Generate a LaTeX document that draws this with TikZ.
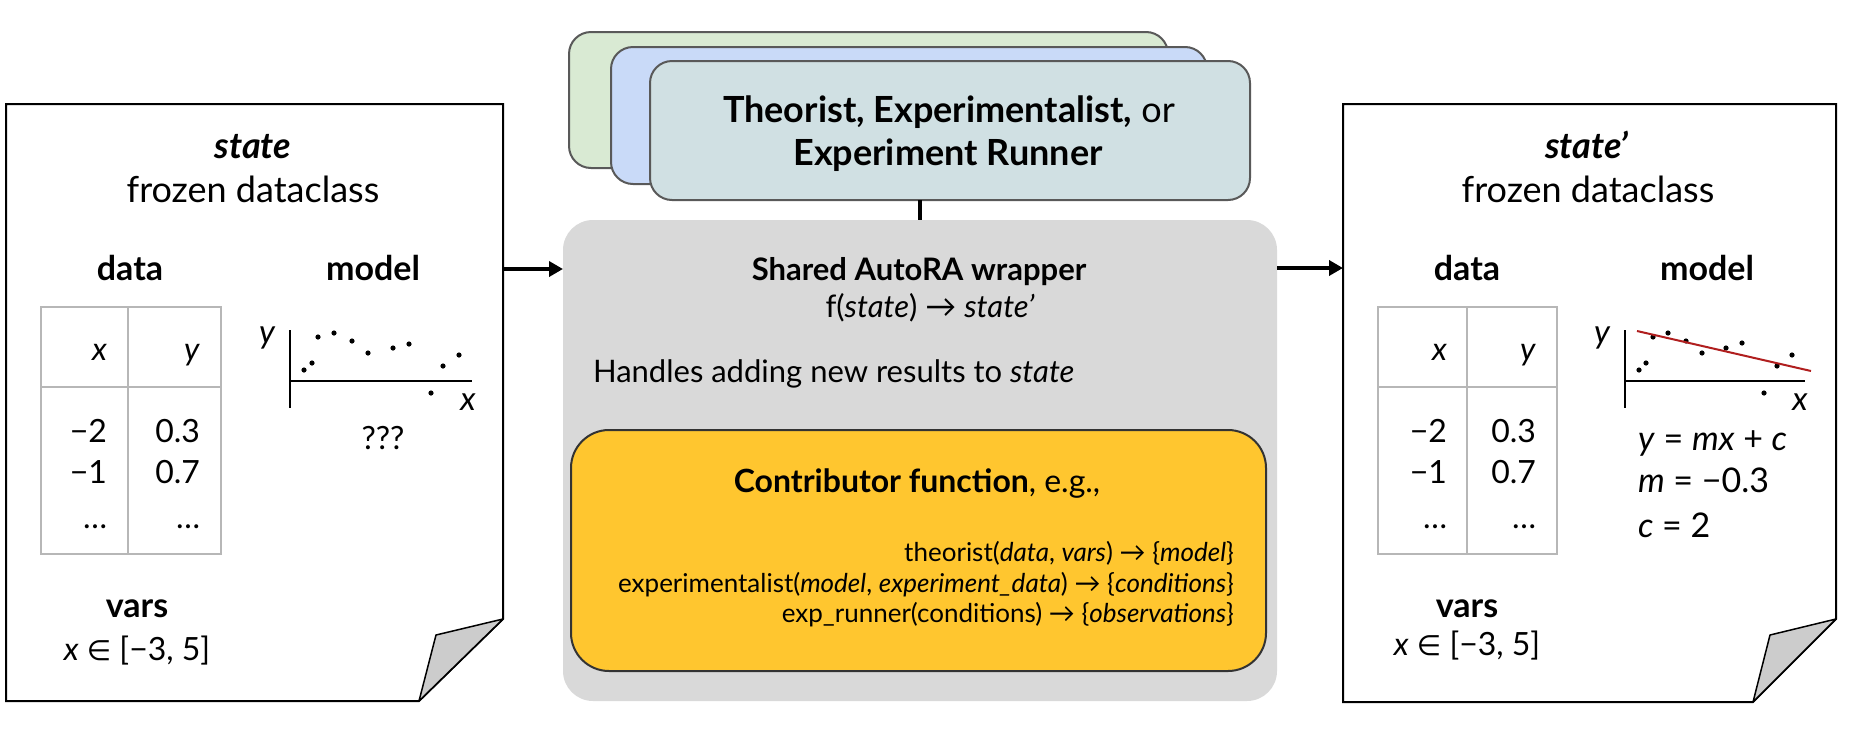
\documentclass[tikz,border=0pt]{standalone}
\usepackage{fontspec}
\setmainfont{Lato}
\newfontfamily\symbfont{DejaVu Sans}
\usetikzlibrary{arrows.meta}
\definecolor{tablegray}{HTML}{B7B7B7}
\definecolor{flapgray}{HTML}{CCCCCC}
\definecolor{boxgreen}{HTML}{D9EAD3}
\definecolor{boxblue}{HTML}{C9DAF8}
\definecolor{boxteal}{HTML}{D0E0E3}
\definecolor{boxline}{HTML}{595959}
\definecolor{wrapgray}{HTML}{D9D9D9}
\definecolor{contribyellow}{HTML}{FFC62F}
\definecolor{contribline}{HTML}{333333}
\definecolor{fitred}{HTML}{B01E1E}
\newcommand{\myfs}[1]{\fontsize{#1}{#1}\selectfont}
\newcommand{\elem}{{\symbfont\fontsize{28}{28}\selectfont ∈}}
\begin{document}
\begin{tikzpicture}[x=1pt,y=-1pt,
  every node/.style={inner sep=0pt, outer sep=0pt},
  doc/.style={draw=black, line width=2pt, fill=white, line join=miter},
  flap/.style={draw=black, line width=1.5pt, fill=flapgray, line join=round},
  tgrid/.style={draw=tablegray, line width=2pt},
  axisline/.style={draw=black, line width=2.5pt},
  cell/.style={anchor=base east, font=\myfs{32}},
  bighead/.style={anchor=base, font=\myfs{36}},
  subhead/.style={anchor=base, font=\myfs{34}\bfseries},
  plain/.style={anchor=base, font=\myfs{32}},
  stackbox/.style={draw=boxline, line width=2pt, rounded corners=22pt},
  conn/.style={draw=black, line width=4.5pt},
  arr/.style={draw=black, line width=4.5pt, -{Triangle[length=14pt,width=15pt]}},
  codeline/.style={anchor=base east, font=\myfs{26}},
]
\useasboundingbox (0,0) rectangle (1858,753);

% ---------- left document ----------
\draw[doc] (6,104) -- (503,104) -- (503,619) -- (419,701) -- (6,701) -- cycle;
\draw[flap] (419,701) -- (436,635) -- (503,619) -- cycle;
\coordinate (ldocE) at (503,269);

\node[bighead] (lstate) at (253,158) {\textbf{\textit{state}}};
\node[bighead] (lfrozen) at (253,202) {frozen dataclass};
\node[subhead] (ldata) at (130,280) {data};
\node[subhead] (lmodel) at (373,280) {model};

\draw[tgrid] (41,307) rectangle (221,554);
\draw[tgrid] (128,307) -- (128,554);
\draw[tgrid] (41,387) -- (221,387);
\node[cell] (lhx) at (107,360) {\textit{x}};
\node[cell] (lhy) at (200,360) {\textit{y}};
\node[cell] (lr1x) at (107,442) {−2};
\node[cell] (lr1y) at (200,442) {0.3};
\node[cell] (lr2x) at (107,483) {−1};
\node[cell] (lr2y) at (200,483) {0.7};
\node[cell] (lr3x) at (107,528) {…};
\node[cell] (lr3y) at (200,528) {…};

\draw[axisline] (290,330) -- (290,408);
\draw[axisline] (290,381) -- (472,381);
\node[plain, font=\myfs{33}\itshape] (lylab) at (267,343) {y};
\node[plain, font=\myfs{33}\itshape] (lxlab) at (468,410) {x};
\foreach \p in {(304,370),(312,363),(318,337),(334,333),(352,341),(368,353),(393,348),(409,344),(443,366),(459,355),(431,393)}
  \fill \p circle (2.6);
\node[plain] (lqq) at (383,449) {???};

\node[subhead] (lvars) at (137,617) {vars};
\node[plain] (lrange) at (137,660) {\textit{x} \elem{} [−3, 5]};

% ---------- right document ----------
\draw[doc] (1343,104) -- (1836,104) -- (1836,619) -- (1753,702) -- (1343,702) -- cycle;
\draw[flap] (1753,702) -- (1770,635) -- (1836,619) -- cycle;
\coordinate (rdocW) at (1343,268);

\node[bighead] (rstate) at (1587,158) {\textbf{\textit{state’}}};
\node[bighead] (rfrozen) at (1588,202) {frozen dataclass};
\node[subhead] (rdata) at (1467,280) {data};
\node[subhead] (rmodel) at (1707,280) {model};

\draw[tgrid] (1378,307) rectangle (1557,554);
\draw[tgrid] (1467,307) -- (1467,554);
\draw[tgrid] (1378,387) -- (1557,387);
\node[cell] (rhx) at (1447,360) {\textit{x}};
\node[cell] (rhy) at (1536,360) {\textit{y}};
\node[cell] (rr1x) at (1447,442) {−2};
\node[cell] (rr1y) at (1536,442) {0.3};
\node[cell] (rr2x) at (1447,483) {−1};
\node[cell] (rr2y) at (1536,483) {0.7};
\node[cell] (rr3x) at (1447,528) {…};
\node[cell] (rr3y) at (1536,528) {…};

\draw[axisline] (1625,330) -- (1625,408);
\draw[axisline] (1625,381) -- (1805,381);
\node[plain, font=\myfs{33}\itshape] (rylab) at (1602,343) {y};
\node[plain, font=\myfs{33}\itshape] (rxlab) at (1800,410) {x};
\foreach \p in {(1639,370),(1646,363),(1653,337),(1668,333),(1686,341),(1702,353),(1726,348),(1742,343),(1777,366),(1792,355),(1764,393)}
  \fill \p circle (2.6);
\draw[fitred, line width=2pt] (1637,331) -- (1811,371);
\node[anchor=base west, font=\myfs{34}] (req1) at (1638,450) {\textit{y} = \textit{mx} + \textit{c}};
\node[anchor=base west, font=\myfs{34}] (req2) at (1638,492) {\textit{m} = −0.3};
\node[anchor=base west, font=\myfs{34}] (req3) at (1638,537) {\textit{c} = 2};

\node[subhead] (rvars) at (1467,617) {vars};
\node[plain] (rrange) at (1467,655) {\textit{x} \elem{} [−3, 5]};

% ---------- centre ----------
\node[stackbox, fill=boxgreen, minimum width=599pt, minimum height=136pt] (sgreen) at (868.5,100) {};
\node[stackbox, fill=boxblue, minimum width=596pt, minimum height=137pt] (sblue) at (909,115.5) {};
\node[stackbox, fill=boxteal, minimum width=600pt, minimum height=139pt] (steal) at (950,130.5) {};
\node[anchor=base, font=\myfs{36}] (role1) at (949,122) {\textbf{Theorist, Experimentalist,} or};
\node[anchor=base, font=\myfs{36}\bfseries] (role2) at (948,165) {Experiment Runner};

\node[fill=wrapgray, rounded corners=30pt, minimum width=714pt, minimum height=481pt] (wrap) at (920,460.5) {};
\draw[conn] (wrap.north |- steal.south) -- (wrap.north);

\node[anchor=base, font=\myfs{31}\bfseries] (wtitle) at (919,280) {Shared AutoRA wrapper};
\node[anchor=base, font=\myfs{31}] (wfunc) at (930,317) {f(\textit{state}) → \textit{state’}};
\node[anchor=base west, font=\myfs{31}] (whandles) at (593,382) {Handles adding new results to \textit{state}};

\node[draw=contribline, line width=2pt, fill=contribyellow, rounded corners=38pt, minimum width=695pt, minimum height=241pt] (contrib) at (918.5,550.5) {};
\node[anchor=base, font=\myfs{32}] (ctitle) at (917,492) {\textbf{Contributor function}, e.g.,};
\node[codeline] (code1) at (1234,561) {theorist(\textit{data}, \textit{vars}) → \{\textit{model}\}};
\node[codeline] (code2) at (1234,592) {experimentalist(\textit{model}, \textit{experiment\_data}) → \{\textit{conditions}\}};
\node[codeline] (code3) at (1234,622) {exp\_runner(conditions) → \{\textit{observations}\}};

% ---------- arrows ----------
\draw[arr] (ldocE) -- (wrap.west |- ldocE);
\draw[arr] (wrap.east |- rdocW) -- (rdocW);
\end{tikzpicture}
\end{document}
